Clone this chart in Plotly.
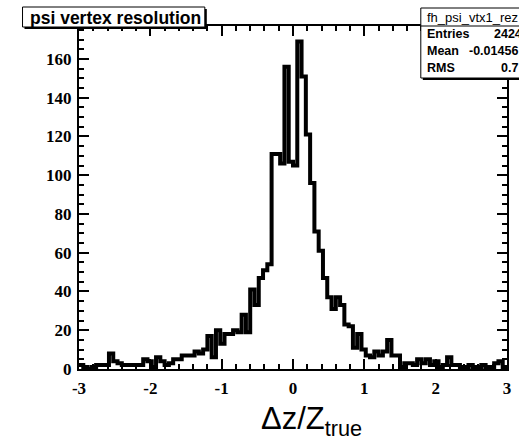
import numpy as np
import plotly.graph_objects as go

# ---- data ----
x_min, x_max, n_bins = -3.0, 3.0, 100
counts = [
    2, 1, 0, 1, 2, 2, 2, 8, 4, 3,
    2, 2, 2, 2, 2, 5, 4, 1, 6, 4,
    2, 3, 5, 5, 7, 7, 7, 9, 8, 10,
    17, 6, 20, 13, 18, 18, 20, 19, 28, 19,
    41, 33, 47, 51, 54, 111, 111, 106, 156, 107,
    105, 169, 151, 121, 96, 71, 61, 47, 37, 31,
    37, 33, 23, 22, 11, 18, 10, 7, 6, 9,
    7, 9, 15, 7, 7, 1, 3, 3, 2, 5,
    3, 5, 2, 4, 1, 2, 6, 2, 2, 1,
    1, 2, 1, 1, 2, 1, 1, 3, 4, 1,
]
x_tickvals = [-3, -2, -1, 0, 1, 2, 3]
x_ticktext = ["-3", "-2", "-1", "0", "1", "2", "3"]
y_tickvals = [0, 20, 40, 60, 80, 100, 120, 140, 160]
y_ticktext = ["0", "20", "40", "60", "80", "100", "120", "140", "160"]
hist_title = "psi vertex resolution"
stats_name = "fh_psi_vtx1_rez"
stats_labels = ["Entries", "Mean", "RMS"]
stats_values = ["2424", "-0.01456", "0.7"]

edges = np.linspace(x_min, x_max, n_bins + 1)
xs = list(edges)
ys = list(counts) + [counts[-1]]

W, H = 519, 440
L, R, T, B = 79, 8, 26, 71
pw, ph = W - L - R, H - T - B


def px(x):
    return (x - L) / pw


def py(y):
    return (H - B - y) / ph


fig = go.Figure()
fig.add_trace(go.Scatter(
    x=xs, y=ys, mode="lines", line=dict(color="black", width=4, shape="hv"),
    hoverinfo="skip", showlegend=False,
))

tickfont = dict(family="Liberation Serif", size=17, color="black", weight="bold")
axis_common = dict(
    showline=True, linecolor="black", linewidth=2, mirror="ticks",
    ticks="inside", ticklen=10, tickwidth=2, tickcolor="black",
    showgrid=False, zeroline=False, tickfont=tickfont, tickmode="array",
)
fig.update_xaxes(range=[x_min, x_max], tickvals=x_tickvals, ticktext=x_ticktext,
                 minor=dict(dtick=0.2, ticks="inside", ticklen=5, tickwidth=1.5,
                            tickcolor="black", showgrid=False),
                 ticklabelstandoff=3, **axis_common)
fig.update_yaxes(range=[0, 177], tickvals=y_tickvals, ticktext=y_ticktext,
                 minor=dict(dtick=5, ticks="inside", ticklen=5, tickwidth=1.5,
                            tickcolor="black", showgrid=False),
                 ticklabelstandoff=2, **axis_common)

shapes = []
# title box (shadow + box)
tb = (22, 7, 206, 27)
shapes.append(dict(type="rect", xref="paper", yref="paper",
                   x0=px(tb[0] + 2), x1=px(tb[2] + 2), y0=py(tb[3] + 2), y1=py(tb[1] + 2),
                   fillcolor="black", line=dict(width=0), layer="above"))
shapes.append(dict(type="rect", xref="paper", yref="paper",
                   x0=px(tb[0]), x1=px(tb[2]), y0=py(tb[3]), y1=py(tb[1]),
                   fillcolor="white", line=dict(color="black", width=1), layer="above"))
# stats box
sb = (424, 8, 530, 78)
shapes.append(dict(type="rect", xref="paper", yref="paper",
                   x0=px(sb[0] + 2), x1=px(sb[2] + 2), y0=py(sb[3] + 2), y1=py(sb[1] + 2),
                   fillcolor="black", line=dict(width=0), layer="above"))
shapes.append(dict(type="rect", xref="paper", yref="paper",
                   x0=px(sb[0]), x1=px(sb[2]), y0=py(sb[3]), y1=py(sb[1]),
                   fillcolor="white", line=dict(color="black", width=1), layer="above"))
shapes.append(dict(type="line", xref="paper", yref="paper",
                   x0=px(sb[0]), x1=px(sb[2]), y0=py(26), y1=py(26),
                   line=dict(color="black", width=1), layer="above"))
fig.update_layout(shapes=shapes)

ann = []
ann.append(dict(xref="paper", yref="paper", x=px(28), y=py(17.5), xanchor="left", yanchor="middle",
                text=hist_title, showarrow=False,
                font=dict(family="Liberation Sans", size=17.5, color="black", weight="bold")))
ann.append(dict(xref="paper", yref="paper", x=px(428), y=py(17), xanchor="left", yanchor="middle",
                text=stats_name, showarrow=False,
                font=dict(family="Liberation Sans", size=13, color="black")))
row_y = [34.5, 51.5, 68.5]
val_x = [496, 471, 503]
for lab, val, ry, vx in zip(stats_labels, stats_values, row_y, val_x):
    ann.append(dict(xref="paper", yref="paper", x=px(428), y=py(ry), xanchor="left", yanchor="middle",
                    text=lab, showarrow=False,
                    font=dict(family="Liberation Sans", size=12.5, color="black", weight="bold")))
    ann.append(dict(xref="paper", yref="paper", x=px(vx), y=py(ry), xanchor="left", yanchor="middle",
                    text=val, showarrow=False,
                    font=dict(family="Liberation Sans", size=12.5, color="black", weight="bold")))
ann.append(dict(xref="paper", yref="paper", x=px(314), y=py(421), xanchor="center", yanchor="middle",
                text="Δz/Z<sub>true</sub>", showarrow=False,
                font=dict(family="Liberation Sans", size=31, color="black")))
fig.update_layout(annotations=ann)

fig.update_layout(
    width=W, height=H, margin=dict(l=L, r=R, t=T, b=B, pad=0),
    paper_bgcolor="white", plot_bgcolor="white",
)
fig.write_html("out.html", config={"displayModeBar": False},
               post_script="document.body.style.margin='0';")
